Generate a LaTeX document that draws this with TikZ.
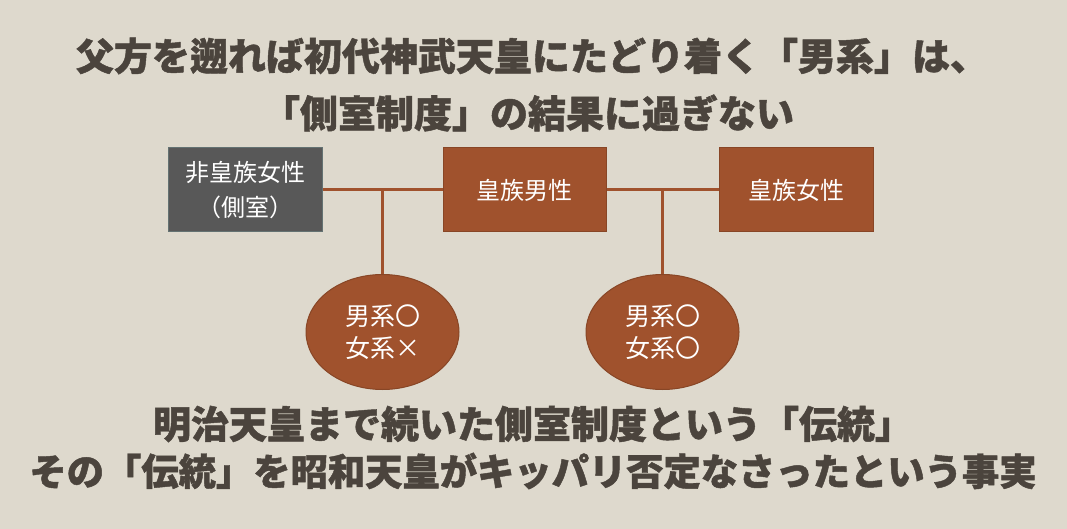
\documentclass[tikz,border=0pt]{standalone}
\usepackage{fontspec}
\setmainfont{Noto Sans CJK JP}[BoldFeatures={FakeBold=1.2}]
\usetikzlibrary{shapes.geometric}
\definecolor{paper}{RGB}{222,217,205}
\definecolor{ink}{RGB}{75,68,61}
\definecolor{sienna}{RGB}{160,82,45}
\definecolor{slate}{RGB}{88,88,88}
\definecolor{slateline}{RGB}{100,114,114}
\begin{document}
\begin{tikzpicture}[x=1pt, y=-1pt,
    head/.style = {font=\bfseries\fontsize{38}{57}\selectfont, text=ink, inner sep=0pt},
    rbox/.style = {fill=sienna, draw=sienna!85!black, line width=1pt, minimum width=154pt, minimum height=84pt, inner sep=0pt, text=white, align=center, font=\fontsize{24}{35}\selectfont},
    gbox/.style = {rbox, fill=slate, draw=slateline},
    kid/.style = {ellipse, fill=sienna, draw=sienna!85!black, line width=1pt, minimum width=153pt, minimum height=115pt, inner sep=0pt, text=white, align=center, font=\fontsize{25}{32}\selectfont},
    link/.style = {draw=sienna, line width=3pt}]
    \fill[paper] (0,0) rectangle (1067,529);
    \useasboundingbox (0,0) rectangle (1067,529);
    \node[head] (t1) at (532,56) {父方を遡れば初代神武天皇にたどり着く「男系」は、};
    \node[head] (t2) at (528,113) {「側室制度」の結果に過ぎない};
    \node[gbox] (g) at (245,190) {非皇族女性\\（側室）};
    \node[rbox, minimum width=163pt] (m) at (524.5,190) {皇族男性};
    \node[rbox] (f) at (796,190) {皇族女性};
    \node[kid] (c1) at (382.5,332) {男系〇\\女系×};
    \node[kid] (c2) at (662.5,332) {男系〇\\女系〇};
    \node[head] (b1) at (533,424) {明治天皇まで続いた側室制度という「伝統」};
    \node[head, font=\bfseries\fontsize{37.3}{57}\selectfont] (b2) at (533,471) {その「伝統」を昭和天皇がキッパリ否定なさったという事実};
    % marriages and children
    \draw[link] (g.east) -- (m.west);
    \draw[link] (m.east) -- (f.west);
    \draw[link] (c1.north) -- (c1.north |- g.east);
    \draw[link] (c2.north) -- (c2.north |- m.east);
\end{tikzpicture}
\end{document}
